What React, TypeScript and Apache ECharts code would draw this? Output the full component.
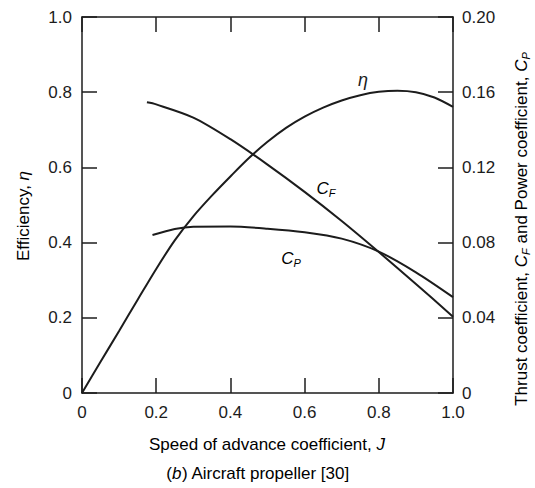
import React, { useEffect, useRef } from "react";
import * as echarts from "echarts";

const J_ETA = [0, 0.05, 0.1, 0.15, 0.2, 0.25, 0.3, 0.35, 0.4, 0.45, 0.5, 0.55, 0.6, 0.65, 0.7, 0.75, 0.8, 0.85, 0.9, 0.95, 1.0];
const ETA = [0, 0.083, 0.165, 0.248, 0.33, 0.406, 0.47, 0.525, 0.576, 0.625, 0.668, 0.705, 0.735, 0.759, 0.778, 0.792, 0.801, 0.804, 0.8, 0.786, 0.761];

const J_CF = [0.175, 0.2, 0.3, 0.4, 0.5, 0.6, 0.7, 0.8, 0.9, 1.0];
const CF = [0.1546, 0.1535, 0.1465, 0.135, 0.1215, 0.107, 0.0915, 0.075, 0.058, 0.0406];

const J_CP = [0.19, 0.25, 0.3, 0.4, 0.5, 0.6, 0.7, 0.8, 0.9, 1.0];
const CP = [0.084, 0.0872, 0.0884, 0.0885, 0.0874, 0.0855, 0.0821, 0.0752, 0.0642, 0.051];

const X_TICKS = ["0", "0.2", "0.4", "0.6", "0.8", "1.0"];
const Y_LEFT_TICKS = ["0", "0.2", "0.4", "0.6", "0.8", "1.0"];
const Y_RIGHT_TICKS = ["0", "0.04", "0.08", "0.12", "0.16", "0.20"];

const FONT = "Liberation Sans";
const INK = "#1c1c1c";

export default function App() {
  const ref = useRef<HTMLDivElement>(null);
  useEffect(() => {
    if (!ref.current) return;
    const chart = echarts.init(ref.current, undefined, { renderer: "svg" });
    const axisLine = () => ({ show: true, onZero: false, lineStyle: { color: INK, width: 1.5 } });
    const axisTick = () => ({ show: true, inside: true, length: 15, lineStyle: { color: INK, width: 1.5 } });
    const labelStyle = { color: INK, fontSize: 17, fontFamily: FONT };
    const lineStyle = { color: INK, width: 2 };
    const italic = { fontStyle: "italic", fontFamily: FONT, fontSize: 17, color: INK, lineHeight: 20 };
    const sub = { fontStyle: "italic", fontFamily: FONT, fontSize: 11, color: INK, lineHeight: 10, verticalAlign: "bottom" };
    const plain = { fontFamily: FONT, fontSize: 17, color: INK, lineHeight: 20 };
    const curve = { type: "line", xAxisIndex: 0, showSymbol: false, smooth: 0.3, lineStyle };
    const option: any = {
      animation: false,
      backgroundColor: "#ffffff",
      grid: { left: 82, right: 82, top: 17, bottom: 95 },
      xAxis: [
        {
          type: "value", min: 0, max: 1, interval: 0.2, position: "bottom",
          axisLine: axisLine(), axisTick: axisTick(),
          axisLabel: { ...labelStyle, margin: 11, formatter: (v: number) => X_TICKS[Math.round(v / 0.2)] },
          splitLine: { show: false },
        },
        {
          type: "value", min: 0, max: 1, interval: 0.2, position: "top",
          axisLine: axisLine(), axisTick: axisTick(), axisLabel: { show: false }, splitLine: { show: false },
        },
      ],
      yAxis: [
        {
          type: "value", min: 0, max: 1, interval: 0.2, position: "left",
          axisLine: axisLine(), axisTick: axisTick(),
          axisLabel: { ...labelStyle, margin: 10, formatter: (v: number) => Y_LEFT_TICKS[Math.round(v / 0.2)] },
          splitLine: { show: false },
        },
        {
          type: "value", min: 0, max: 0.2, interval: 0.04, position: "right",
          axisLine: axisLine(), axisTick: axisTick(),
          axisLabel: { ...labelStyle, margin: 9, formatter: (v: number) => Y_RIGHT_TICKS[Math.round(v / 0.04)] },
          splitLine: { show: false },
        },
      ],
      series: [
        { ...curve, yAxisIndex: 0, data: J_ETA.map((j, i) => [j, ETA[i]]) },
        { ...curve, yAxisIndex: 1, data: J_CF.map((j, i) => [j, CF[i]]) },
        { ...curve, yAxisIndex: 1, data: J_CP.map((j, i) => [j, CP[i]]) },
      ],
      graphic: [
        {
          type: "text", x: 363, y: 80,
          style: { text: "η", font: `italic 18px ${FONT}`, fill: INK, align: "center", verticalAlign: "middle" },
        },
        {
          type: "text", x: 326, y: 188,
          style: { text: "{c|C}{s|F}", rich: { c: italic, s: sub }, align: "center", verticalAlign: "middle" },
        },
        {
          type: "text", x: 291, y: 258,
          style: { text: "{c|C}{s|P}", rich: { c: italic, s: sub }, align: "center", verticalAlign: "middle" },
        },
        {
          type: "text", x: 23, y: 216, rotation: Math.PI / 2,
          style: { text: "{p|Efficiency, }{c|η}", rich: { p: plain, c: italic }, align: "center", verticalAlign: "middle" },
        },
        {
          type: "text", x: 521, y: 229, rotation: Math.PI / 2,
          style: {
            text: "{p|Thrust coefficient, }{c|C}{s|F}{p| and Power coefficient, }{c|C}{s|P}",
            rich: { p: plain, c: italic, s: sub }, align: "center", verticalAlign: "middle",
          },
        },
        {
          type: "text", x: 267, y: 444,
          style: { text: "{p|Speed of advance coefficient, }{c|J}", rich: { p: plain, c: italic }, align: "center", verticalAlign: "middle" },
        },
        {
          type: "text", x: 258, y: 473,
          style: { text: "{p|(}{c|b}{p|) Aircraft propeller [30]}", rich: { p: plain, c: italic }, align: "center", verticalAlign: "middle" },
        },
      ],
    };
    chart.setOption(option);
    return () => chart.dispose();
  }, []);
  return (
    <div
      ref={ref}
      style={{ position: "fixed", left: 0, top: 0, width: 535, height: 488, background: "#fff" }}
    />
  );
}
